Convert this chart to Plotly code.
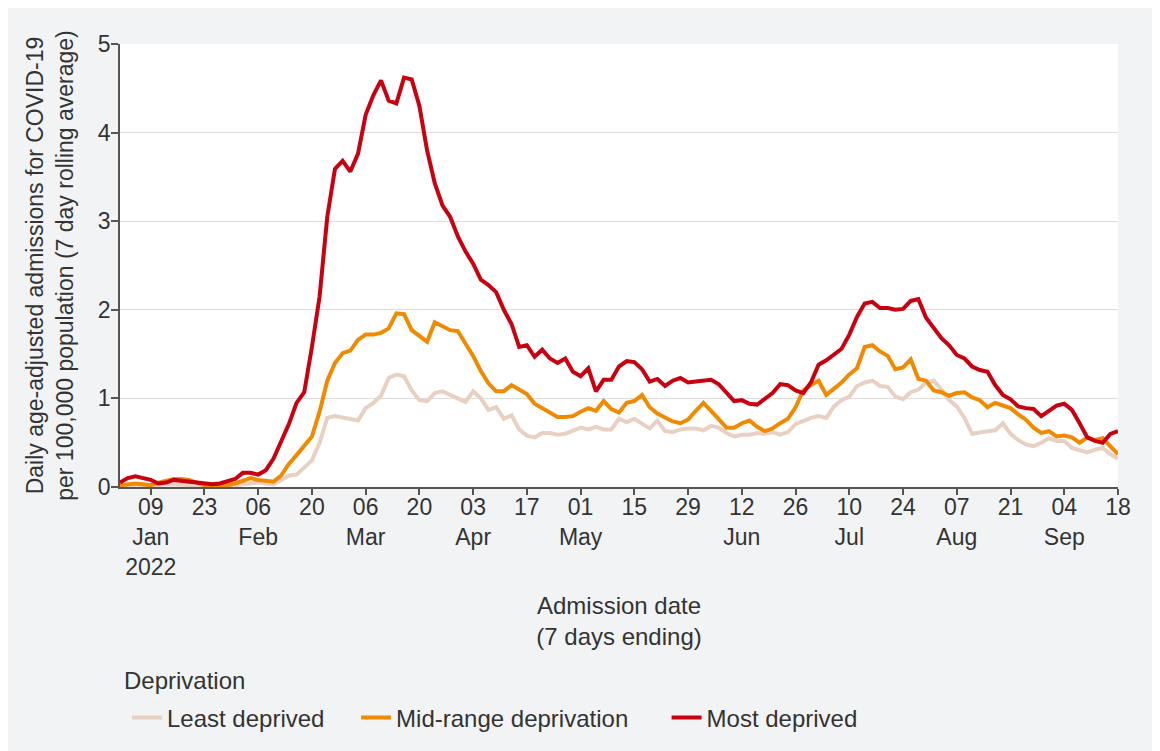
import pandas as pd
import plotly.graph_objects as go

# Dates: every second day, 1 Jan 2022 - 18 Sep 2022
dates = pd.date_range("2022-01-01", "2022-09-18", freq="2D")

least_deprived = [
    0.01, 0.01, 0.02, 0.02, 0.01, 0.02, 0.03, 0.03, 0.03, 0.02,
    0.02, 0.01, 0.01, 0.01, 0.01, 0.02, 0.03, 0.04, 0.05, 0.04,
    0.03, 0.08, 0.13, 0.14, 0.22, 0.30, 0.50, 0.78, 0.80, 0.78,
    0.77, 0.75, 0.89, 0.95, 1.03, 1.23, 1.27, 1.25, 1.09, 0.98,
    0.97, 1.06, 1.08, 1.04, 0.99, 0.96, 1.08, 1.00, 0.87, 0.90,
    0.77, 0.81, 0.65, 0.58, 0.56, 0.61, 0.61, 0.59, 0.60, 0.63,
    0.67, 0.65, 0.68, 0.65, 0.65, 0.77, 0.73, 0.77, 0.72, 0.66,
    0.75, 0.63, 0.62, 0.65, 0.66, 0.66, 0.64, 0.69, 0.67, 0.61,
    0.57, 0.59, 0.59, 0.61, 0.60, 0.62, 0.59, 0.62, 0.71, 0.75,
    0.78, 0.80, 0.78, 0.91, 0.98, 1.02, 1.14, 1.18, 1.20, 1.14,
    1.13, 1.02, 0.99, 1.07, 1.10, 1.18, 1.20, 1.10, 0.98, 0.91,
    0.78, 0.60, 0.62, 0.63, 0.64, 0.72, 0.60, 0.53, 0.48, 0.46,
    0.50, 0.55, 0.52, 0.52, 0.44, 0.42, 0.39, 0.42, 0.44, 0.37,
    0.32,
]

mid_range = [
    0.02, 0.03, 0.04, 0.03, 0.02, 0.05, 0.07, 0.09, 0.09, 0.08,
    0.05, 0.02, 0.02, 0.02, 0.02, 0.04, 0.07, 0.10, 0.08, 0.07,
    0.06, 0.13, 0.26, 0.36, 0.46, 0.57, 0.85, 1.20, 1.40, 1.51,
    1.54, 1.66, 1.72, 1.72, 1.74, 1.79, 1.96, 1.95, 1.77, 1.70,
    1.64, 1.86, 1.82, 1.77, 1.76, 1.62, 1.48, 1.31, 1.17, 1.08,
    1.08, 1.15, 1.10, 1.05, 0.94, 0.89, 0.84, 0.79, 0.79, 0.80,
    0.85, 0.89, 0.86, 0.97, 0.88, 0.84, 0.95, 0.97, 1.04, 0.90,
    0.83, 0.79, 0.74, 0.72, 0.76, 0.86, 0.95, 0.86, 0.76, 0.67,
    0.67, 0.72, 0.75, 0.68, 0.63, 0.66, 0.72, 0.77, 0.90, 1.09,
    1.15, 1.20, 1.04, 1.11, 1.18, 1.27, 1.34, 1.58, 1.60, 1.53,
    1.48, 1.33, 1.35, 1.44, 1.22, 1.20, 1.09, 1.07, 1.03, 1.06,
    1.07, 1.01, 0.98, 0.90, 0.95, 0.92, 0.89, 0.82, 0.76, 0.67,
    0.61, 0.63, 0.57, 0.58, 0.56, 0.50, 0.56, 0.53, 0.55, 0.46,
    0.37,
]

most_deprived = [
    0.05, 0.10, 0.12, 0.10, 0.08, 0.04, 0.05, 0.08, 0.07, 0.05,
    0.04, 0.03, 0.03, 0.04, 0.06, 0.09, 0.16, 0.16, 0.14, 0.19,
    0.32, 0.52, 0.71, 0.95, 1.07, 1.58, 2.15, 3.05, 3.59, 3.68,
    3.56, 3.76, 4.20, 4.42, 4.59, 4.36, 4.33, 4.62, 4.60, 4.30,
    3.80, 3.43, 3.18, 3.05, 2.83, 2.66, 2.52, 2.34, 2.28, 2.20,
    2.00, 1.84, 1.58, 1.60, 1.47, 1.55, 1.45, 1.40, 1.45, 1.30,
    1.25, 1.34, 1.08, 1.21, 1.21, 1.36, 1.42, 1.41, 1.33, 1.19,
    1.22, 1.14, 1.20, 1.23, 1.18, 1.19, 1.20, 1.21, 1.16, 1.07,
    0.97, 0.98, 0.94, 0.93, 1.00, 1.06, 1.16, 1.15, 1.09, 1.06,
    1.18, 1.38, 1.43, 1.49, 1.56, 1.72, 1.92, 2.07, 2.09, 2.02,
    2.02, 2.00, 2.01, 2.10, 2.12, 1.91, 1.80, 1.68, 1.60, 1.49,
    1.45, 1.36, 1.32, 1.30, 1.15, 1.04, 0.99, 0.91, 0.89, 0.88,
    0.80, 0.86, 0.92, 0.94, 0.87, 0.72, 0.56, 0.52, 0.50, 0.60,
    0.63,
]

series_names = ["Least deprived", "Mid-range deprivation", "Most deprived"]
series_colors = ["#e8d0c2", "#f08a00", "#c8000f"]
legend_title = "Deprivation"

tick_dates = pd.date_range("2022-01-09", "2022-09-18", freq="14D")
tick_labels = [
    "09<br>Jan<br>2022", "23", "06<br>Feb", "20", "06<br>Mar", "20",
    "03<br>Apr", "17", "01<br>May", "15", "29", "12<br>Jun", "26",
    "10<br>Jul", "24", "07<br>Aug", "21", "04<br>Sep", "18",
]

font_family = "Liberation Sans, Arial, sans-serif"
fs = 23
fs_big = 24
axis_color = "#555555"
text_color = "#333333"
pads = ["\u00a0" * 4, "\u00a0" * 5, ""]

fig = go.Figure()
for name, vals, col, p in zip(series_names, [least_deprived, mid_range, most_deprived], series_colors, pads):
    fig.add_trace(go.Scatter(
        x=dates, y=vals, mode="lines", name=name + p,
        line=dict(color=col, width=4),
    ))

fig.update_layout(
    width=1160, height=751,
    paper_bgcolor="#f2f3f5",
    plot_bgcolor="#ffffff",
    font=dict(family=font_family, size=fs, color=text_color),
    margin=dict(l=112, r=50, t=36, b=272),
    showlegend=True,
    legend=dict(
        orientation="h",
        x=0.007, xanchor="left",
        y=-0.521, yanchor="middle",
        font=dict(size=fs_big, color=text_color),
        bgcolor="rgba(0,0,0,0)",
        traceorder="normal",
        itemwidth=30,
    ),
    annotations=[dict(
        text=legend_title, xref="paper", yref="paper",
        x=0.002, y=-0.436, xanchor="left", yanchor="middle",
        showarrow=False, font=dict(size=fs_big, color=text_color),
    )],
)

fig.update_xaxes(
    range=["2022-01-01", "2022-09-18"],
    tickmode="array",
    tickvals=tick_dates,
    ticktext=tick_labels,
    ticks="outside", ticklen=6, tickcolor=axis_color, tickwidth=1.5,
    ticklabelstandoff=-7,
    showline=True, linecolor=axis_color, linewidth=1.5,
    showgrid=False, zeroline=False,
    tickfont=dict(size=fs, color=text_color),
    title=dict(text="Admission date<br>(7 days ending)", standoff=18,
               font=dict(size=fs_big, color=text_color)),
)

fig.update_yaxes(
    range=[0, 5],
    tickvals=[0, 1, 2, 3, 4, 5],
    ticks="outside", ticklen=7, tickcolor=axis_color, tickwidth=1.5,
    ticklabelstandoff=-4,
    showline=True, linecolor=axis_color, linewidth=1.5,
    showgrid=True, gridcolor="#dddddd", gridwidth=1,
    zeroline=False,
    tickfont=dict(size=fs, color=text_color),
    title=dict(text="Daily age-adjusted admissions for COVID-19<br>per 100,000 population (7 day rolling average)",
               standoff=18, font=dict(size=fs, color=text_color)),
)

fig.write_html("out.html")
